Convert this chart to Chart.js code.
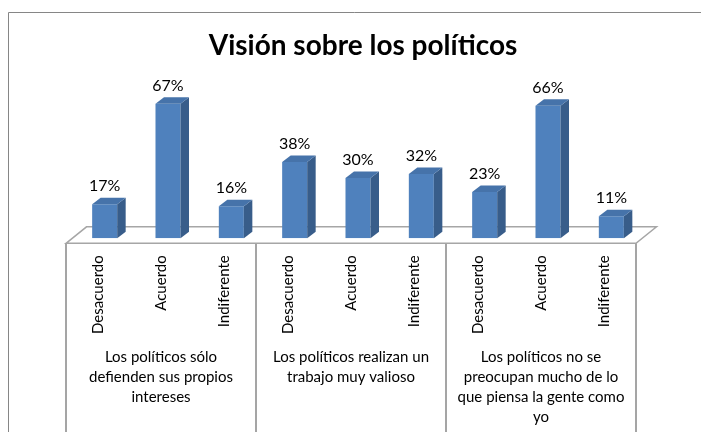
<!DOCTYPE html>
<html lang="es">
<head>
    <meta charset="UTF-8">
    <title>Visión sobre los políticos</title>
    <script src="https://cdn.jsdelivr.net/npm/chart.js"></script>
    <style>
        body {
            margin: 0;
            padding: 0;
            background-color: white;
        }

        canvas {
            display: block;
        }
    </style>
</head>
<body>

    <canvas id="visionChart" width="701" height="432"></canvas>

    <script>
        // Data
        const answers = ['Desacuerdo', 'Acuerdo', 'Indiferente'];
        const groups = [
            ['Los políticos sólo', 'defienden sus propios', 'intereses'],
            ['Los políticos realizan un', 'trabajo muy valioso'],
            ['Los políticos no se', 'preocupan mucho de lo', 'que piensa la gente como', 'yo']
        ];
        const percentages = [17, 67, 16, 38, 30, 32, 23, 66, 11];

        const labels = [];
        groups.forEach(function() {
            answers.forEach(function(a) { labels.push(a); });
        });

        // 3D look
        const depthX = 8.5;
        const depthY = -6.5;
        const axisShift = -7;   // front edge of the floor sits left of the bars

        const frame3d = {
            id: 'frame3d',
            beforeDatasetsDraw(chart) {
                const ctx = chart.ctx;
                const area = chart.chartArea;
                const xs = chart.scales.x;
                const left = area.left + axisShift;
                const right = area.right + axisShift;
                const front = area.bottom + 5;

                ctx.save();
                // outer frame
                ctx.strokeStyle = '#868686';
                ctx.lineWidth = 1;
                ctx.beginPath();
                ctx.moveTo(8.5, chart.height);
                ctx.lineTo(8.5, 12.5);
                ctx.lineTo(chart.width, 12.5);
                ctx.stroke();

                // floor
                ctx.fillStyle = 'white';
                ctx.strokeStyle = '#a6a6a6';
                ctx.lineWidth = 1.5;
                ctx.beginPath();
                ctx.moveTo(left, front);
                ctx.lineTo(left + 20.5, front - 16.5);
                ctx.lineTo(right + 20.5, front - 16.5);
                ctx.lineTo(right, front);
                ctx.closePath();
                ctx.fill();
                ctx.stroke();

                // category boxes
                ctx.strokeStyle = '#a5a5a5';
                ctx.lineWidth = 2;
                ctx.beginPath();
                const n = labels.length;
                for (let g = 0; g <= groups.length; g++) {
                    const i = g * answers.length;
                    let x;
                    if (i === 0) x = left;
                    else if (i >= n) x = right;
                    else x = (xs.getPixelForValue(i - 1) + xs.getPixelForValue(i)) / 2 + axisShift;
                    ctx.moveTo(x, front);
                    ctx.lineTo(x, chart.height);
                }
                ctx.stroke();

                // group names
                ctx.fillStyle = '#000';
                ctx.font = '15px Lato';
                ctx.textAlign = 'center';
                ctx.textBaseline = 'middle';
                groups.forEach(function(lines, g) {
                    const a = xs.getPixelForValue(g * answers.length);
                    const b = xs.getPixelForValue(g * answers.length + answers.length - 1);
                    const cx = (a + b) / 2 + axisShift;
                    lines.forEach(function(line, k) {
                        ctx.fillText(line, cx, 357 + k * 20);
                    });
                });
                ctx.restore();
            },
            afterDatasetsDraw(chart) {
                const ctx = chart.ctx;
                const meta = chart.getDatasetMeta(0);
                ctx.save();
                meta.data.forEach(function(bar, i) {
                    const p = bar.getProps(['x', 'y', 'base', 'width'], true);
                    const l = p.x - p.width / 2;
                    const r = p.x + p.width / 2;

                    // side face
                    ctx.fillStyle = '#385d8a';
                    ctx.beginPath();
                    ctx.moveTo(r, p.y);
                    ctx.lineTo(r + depthX, p.y + depthY);
                    ctx.lineTo(r + depthX, p.base + depthY);
                    ctx.lineTo(r, p.base);
                    ctx.closePath();
                    ctx.fill();

                    // top face
                    ctx.fillStyle = '#4673aa';
                    ctx.beginPath();
                    ctx.moveTo(l, p.y);
                    ctx.lineTo(l + depthX, p.y + depthY);
                    ctx.lineTo(r + depthX, p.y + depthY);
                    ctx.lineTo(r, p.y);
                    ctx.closePath();
                    ctx.fill();

                    // value label
                    ctx.fillStyle = '#000';
                    ctx.font = '16px Lato';
                    ctx.textAlign = 'center';
                    ctx.textBaseline = 'middle';
                    ctx.fillText(percentages[i] + '%', p.x, p.y - 18);
                });
                ctx.restore();
            }
        };

        const ctx = document.getElementById('visionChart').getContext('2d');
        const visionChart = new Chart(ctx, {
            type: 'bar',
            data: {
                labels: labels,
                datasets: [{
                    label: 'Visión',
                    data: percentages,
                    backgroundColor: '#4f81bd',
                    borderWidth: 0,
                    barPercentage: 0.395,
                    categoryPercentage: 1
                }]
            },
            options: {
                responsive: false,
                animation: false,
                devicePixelRatio: 1,
                layout: {
                    padding: { top: 12, left: 73, right: 48, bottom: 0 }
                },
                plugins: {
                    legend: { display: false },
                    tooltip: { enabled: false },
                    title: {
                        display: true,
                        text: 'Visión sobre los políticos',
                        color: '#000',
                        font: { family: 'Lato', size: 28, weight: 'bold', lineHeight: 1.2 },
                        padding: { top: 17.2, bottom: 14.7 }
                    }
                },
                scales: {
                    x: {
                        grid: { display: false, drawTicks: false },
                        border: { display: false },
                        ticks: {
                            minRotation: 90,
                            maxRotation: 90,
                            autoSkip: false,
                            padding: 17,
                            labelOffset: axisShift,
                            color: '#000',
                            font: { family: 'Lato', size: 15 }
                        },
                        afterFit: function(scale) { scale.height = 193.7; }
                    },
                    y: {
                        display: false,
                        min: 0,
                        max: 80
                    },
                    y2: {
                        position: 'right',
                        display: true,
                        grid: { display: false, drawTicks: false },
                        border: { display: false },
                        ticks: { display: false },
                        afterFit: function(scale) { scale.width = 10; }
                    }
                }
            },
            plugins: [frame3d]
        });
    </script>

</body>
</html>
